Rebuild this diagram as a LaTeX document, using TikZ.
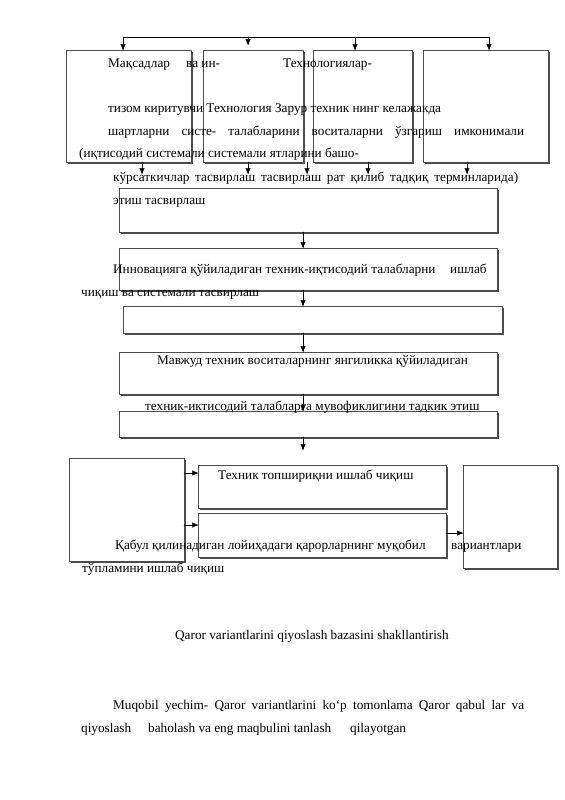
\documentclass[tikz,border=0pt]{standalone}
\usepackage{fontspec}
\setmainfont{Liberation Serif}
\usepackage{tikz}
\usetikzlibrary{arrows,shadows}
\newlength\pxu
\setlength\pxu{0.3717mm}
\tikzset{
  blok/.style={draw=black!70, line width=0.6pt, fill=white, inner sep=0pt, outer sep=0pt, anchor=north west,
    drop shadow={shadow xshift=2.2pt, shadow yshift=-2.2pt, fill=black!70, opacity=1}},
  txt/.style={anchor=base west, inner sep=0pt, font=\fontsize{14}{16}\selectfont},
}
\newcommand{\blk}[5]{\node[blok, minimum width=#4\pxu, minimum height=#5\pxu] (#1) at (#2,#3) {};}
\begin{document}
\begin{tikzpicture}[line cap=round,line join=round,>=triangle 45,x=0.3717mm,y=-0.3717mm]
        \useasboundingbox[fill=white] (0,0) rectangle (565,800);
        % boxes
        \blk{m1}{66}{50}{125}{112}
        \blk{m2}{203}{50}{100}{112}
        \blk{m3}{313}{50}{99}{112}
        \blk{m4}{423}{50}{125}{112}
        \blk{b5}{119}{188}{378}{44}
        \blk{b6}{119}{248}{378}{42}
        \blk{b7}{123}{306}{379}{27}
        \blk{b8}{119}{352}{378}{42}
        \blk{b9}{119}{411}{378}{26}
        \blk{l1}{69}{458}{115}{103}
        \blk{b10}{198}{465}{248}{43}
        \blk{b11}{198}{513}{248}{44}
        \blk{r1}{463}{465}{94}{103}
        % top line
        \coordinate (t1) at (123,37);
        \coordinate (t2) at (248,37);
        \coordinate (t3) at (355,37);
        \coordinate (t4) at (489,37);
        \coordinate (t2e) at (248,45);
        \draw (t1) -- (t4);
        \draw [->] (t1) -- (m1.north -| t1);
        \draw [->] (t2) -- (t2e);
        \draw [->] (t3) -- (m3.north -| t3);
        \draw [->] (t4) -- (m4.north -| t4);
        % short arrows under the top row
        \coordinate (d1) at (142,174);
        \coordinate (d2) at (248,174);
        \coordinate (d3) at (307,174);
        \coordinate (d4) at (368,174);
        \coordinate (d5) at (467,174);
        \draw [->] (m1.south -| d1) -- (d1);
        \draw [->] (m2.south -| d2) -- (d2);
        \draw [->] (m2.south -| d3) -- (d3);
        \draw [->] (m3.south -| d4) -- (d4);
        \draw [->] (m4.south -| d5) -- (d5);
        % middle column
        \coordinate (ax) at (303,0);
        \coordinate (axe) at (303,450);
        \draw [->] (b5.south -| ax) -- (b6.north -| ax);
        \draw [->] (b6.south -| ax) -- (b7.north -| ax);
        \draw [->] (b7.south -| ax) -- (b8.north -| ax);
        \draw [->] (b8.south -| ax) -- (b9.north -| ax);
        \draw [->] (b9.south -| ax) -- (axe);
        % bottom row
        \coordinate (ya) at (0,473);
        \coordinate (yb) at (0,525);
        \coordinate (yc) at (0,533);
        \draw [->] (l1.east |- ya) -- (b10.west |- ya);
        \draw [->] (l1.east |- yb) -- (b11.west |- yb);
        \draw [->] (b11.east |- yc) -- (r1.west |- yc);
        % texts
        \node[txt] (s1) at (108,67) {Мақсадлар};
        \node[txt] (s2) at (186,67) {ва ин-};
        \node[txt] (s3) at (283,67) {Технологиялар-};
        \node[txt] (s4) at (108,112) {тизом киритувчи Технология Зарур техник нинг келажакда};
        \node[txt] (s5) at (108,135) {\makebox[416\pxu][s]{шартларни систе- талабларини воситаларни ўзгариш имконимали}};
        \node[txt] (s6) at (79,157) {(иқтисодий системали системали ятларини башо-};
        \node[txt] (s7) at (113,181) {\makebox[405\pxu][s]{кўрсаткичлар тасвирлаш тасвирлаш рат қилиб тадқиқ терминларида)}};
        \node[txt] (s8) at (113,204) {этиш тасвирлаш};
        \node[txt] (s9) at (113,273) {Инновацияга қўйиладиган техник-иқтисодий талабларни};
        \node[txt] (s10) at (450,273) {ишлаб};
        \node[txt] (s11) at (81,296) {чиқиш ва системали тасвирлаш};
        \node[txt] (s12) at (157,364) {Мавжуд техник воситаларнинг янгиликка қўйиладиган};
        \node[txt] (s13) at (145,410) {техник-иктисодий талабларга мувофиклигини тадкик этиш};
        \node[txt] (s14) at (218,479) {Техник топшириқни ишлаб чиқиш};
        \node[txt] (s15) at (115,549) {Қабул қилинадиган лойиҳадаги қарорларнинг муқобил};
        \node[txt] (s16) at (451,549) {вариантлари};
        \node[txt] (s17) at (82,572) {тўпламини ишлаб чиқиш};
        \node[txt] (s18) at (175,639) {Qaror variantlarini qiyoslash bazasini shakllantirish};
        \node[txt] (s19) at (113,709) {\makebox[411\pxu][s]{Muqobil yechim- Qaror variantlarini ko‘p tomonlama Qaror qabul lar va}};
        \node[txt] (s20) at (81,732) {qiyoslash};
        \node[txt] (s21) at (148,732) {baholash va eng maqbulini tanlash};
        \node[txt] (s22) at (350,732) {qilayotgan};
    \end{tikzpicture}
\end{document}
